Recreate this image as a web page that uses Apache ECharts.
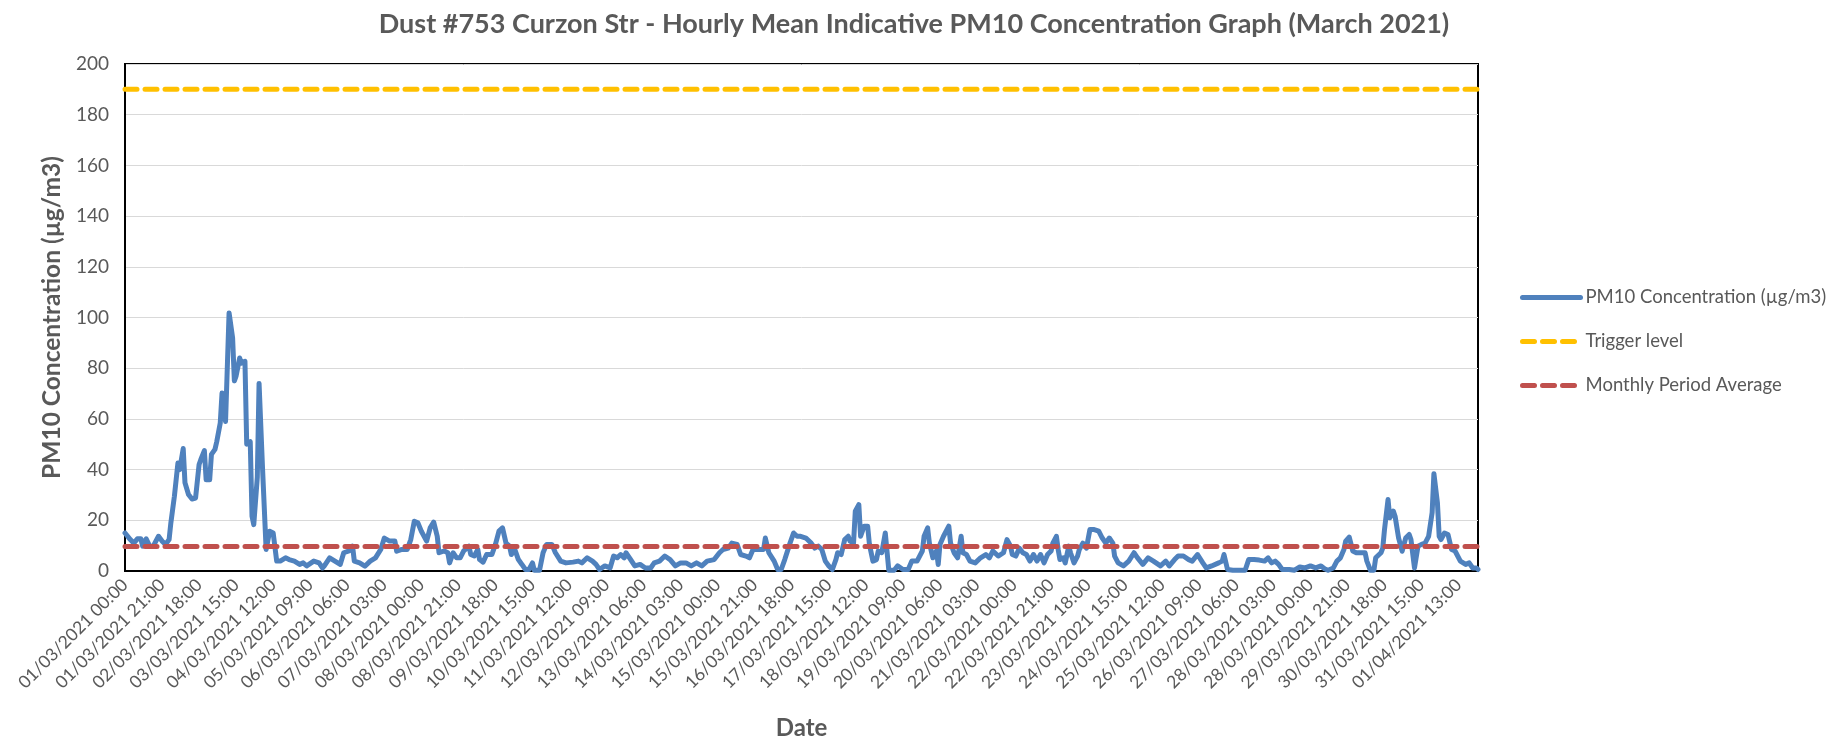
<!DOCTYPE html>
<html><head><meta charset="utf-8">
<script src="https://cdn.jsdelivr.net/npm/echarts@6/dist/echarts.min.js"></script>
<style>html,body{margin:0;padding:0;background:#fff}#c{width:1828px;height:741px}</style>
</head><body><div id="c"></div>
<script>
const tickLabels = [
 '01/03/2021 00:00','01/03/2021 21:00','02/03/2021 18:00','03/03/2021 15:00','04/03/2021 12:00',
 '05/03/2021 09:00','06/03/2021 06:00','07/03/2021 03:00','08/03/2021 00:00','08/03/2021 21:00',
 '09/03/2021 18:00','10/03/2021 15:00','11/03/2021 12:00','12/03/2021 09:00','13/03/2021 06:00',
 '14/03/2021 03:00','15/03/2021 00:00','15/03/2021 21:00','16/03/2021 18:00','17/03/2021 15:00',
 '18/03/2021 12:00','19/03/2021 09:00','20/03/2021 06:00','21/03/2021 03:00','22/03/2021 00:00',
 '22/03/2021 21:00','23/03/2021 18:00','24/03/2021 15:00','25/03/2021 12:00','26/03/2021 09:00',
 '27/03/2021 06:00','28/03/2021 03:00','28/03/2021 00:00','29/03/2021 21:00','30/03/2021 18:00',
 '31/03/2021 15:00','01/04/2021 13:00'
];
const labelEvery = 21;
const hourCount = 768;

// [hour index, PM10 µg/m3]
const pm10 = [
 [0,15],[3,12.4],[5,11],[7,12.7],[9,12.7],[10,9.8],[12,12.7],[14,9.8],[16,9.8],[19,13.7],[21,11.8],[23,10.5],[25,12.4],
 [26,19],[28,29.5],[30,42.6],[31,40],[33,48.3],[34,34.8],[36,30.2],[38,28.4],[40,28.8],[42,42],[43,44],[45,47.5],
 [46,36],[48,36],[49,46],[51,48],[52,51],[54,58.4],[55,70.2],[56,70],[57,59],[59,101.8],[61,92],[62,75],[63,77],
 [65,84],[66,82],[68,82.7],[69,50],[71,51],[72,21.6],[73,18.3],[75,37],[76,74],[78,40],[80,8.5],[82,15.7],[84,15],
 [86,3.9],[88,3.9],[91,5.2],[93,4.5],[96,3.9],[99,2.6],[101,3.2],[103,2],[107,3.9],[110,3.2],[112,1.2],[113,2],
 [116,5.2],[119,3.9],[122,2.6],[124,7.2],[127,7.9],[129,9.8],[130,3.9],[133,3.2],[136,1.9],[139,3.9],[142,5.2],
 [145,8.5],[147,13],[148,13.7],[150,11.8],[153,11.8],[154,7.8],[157,8.5],[160,8.5],[162,12.4],[164,19.6],[166,19],
 [168,15.7],[171,11.8],[173,17],[175,19.3],[177,13.7],[178,7.2],[181,7.9],[183,7.2],[184,3.2],[186,7.2],[188,5.2],
 [190,5.2],[192,7.9],[195,9.8],[196,6.5],[198,5.9],[200,8.5],[201,4.5],[203,3.5],[205,6.5],[208,6.5],[210,10.5],
 [212,15.7],[214,17],[216,11],[218,9.8],[219,6.5],[221,8.5],[223,4.5],[225,2.6],[227,0.6],[229,0.6],[231,3.2],
 [232,0.3],[235,0.3],[237,7.2],[239,10.5],[242,10.5],[244,7.2],[247,3.9],[250,3.2],[254,3.5],[257,3.9],[259,3.2],
 [262,5.2],[265,3.9],[267,2.6],[269,0.6],[272,2],[275,1.2],[277,5.9],[279,5.2],[281,6.5],[283,5.2],[284,7.2],
 [286,5.2],[289,2],[292,2.6],[295,1.2],[298,1.2],[300,3.2],[303,3.9],[306,5.9],[309,4.5],[312,2],[315,3.2],
 [318,3.2],[321,2],[324,3.2],[327,2],[330,3.9],[334,4.5],[337,7.2],[339,8.5],[342,9],[344,11],[347,10.5],[349,6.5],
 [352,5.9],[354,5.2],[356,8.5],[359,8.5],[362,8.5],[363,13],[365,7.2],[368,3.9],[370,0.6],[372,0.6],[374,4.5],
 [377,11],[379,15],[381,13.7],[383,13.7],[386,13],[387,13.7],[389,11],[391,9],[393,9.8],[395,8.5],[397,3.9],[399,2],
 [401,0.6],[403,4.5],[404,7.2],[406,6.5],[408,12.4],[410,13.7],[411,11.8],[413,11],[414,23.6],[416,26.2],[417,13.7],
 [419,17.7],[421,17.7],[422,10.5],[424,3.9],[426,4.5],[427,7.9],[429,7.2],[431,15],[432,15],[433,0.3],[436,0.3],
 [438,2],[441,0.6],[444,0.6],[446,3.9],[449,3.9],[452,7.9],[453,13.7],[455,17],[456,11],[458,5.2],[460,7.9],
 [461,2.6],[462,10.5],[464,13.7],[467,17.7],[468,11],[470,7.2],[472,5.2],[474,13.7],[475,7.2],[477,6.5],[479,3.9],
 [482,3.2],[485,5.2],[488,6.5],[490,5.2],[492,7.9],[495,5.9],[498,7.2],[500,12.4],[502,9.8],[503,6.5],[505,5.9],
 [507,9],[509,7.2],[511,6.5],[513,3.9],[515,6.5],[517,3.9],[519,6.5],[521,3.2],[523,6.5],[525,7.9],[526,11],
 [528,13.7],[529,8.5],[530,4.5],[532,5.2],[533,3.2],[535,9.8],[536,7.2],[538,3.2],[540,5.9],[541,8.5],[543,11],
 [545,9],[547,16.4],[549,16.4],[552,15.7],[554,13],[556,11],[558,13],[560,11],[561,5.9],[563,3.2],[566,2],[569,3.9],
 [572,7.2],[574,5.2],[577,2.6],[580,5.2],[583,3.9],[587,2],[590,3.9],[592,2],[595,4.5],[597,5.9],[600,5.9],
 [603,4.5],[605,3.9],[608,6.5],[611,3.2],[613,1.2],[616,2],[620,3.2],[622,3.9],[623,6.5],[625,0.6],[628,0.3],
 [632,0.3],[635,0.3],[637,4.5],[640,4.5],[643,4.3],[646,3.9],[648,5.2],[650,3.2],[652,3.9],[654,2.6],[656,0.6],
 [660,0.6],[663,0.3],[666,1.6],[669,1.2],[672,2],[675,1.2],[678,2],[680,0.9],[682,0.3],[685,1.2],[687,3.9],
 [689,5.2],[691,8.5],[692,11.8],[694,13.4],[695,13.4],[696,7.9],[698,7.2],[701,7.2],[703,7.2],[704,3.9],[706,0.3],
 [708,0.3],[709,5.2],[712,7.2],[713,9],[714,16.4],[716,28.2],[717,21],[719,23.6],[720,21.6],[722,13],[724,7.8],
 [726,13],[728,14.4],[729,12.4],[731,1.2],[733,9.8],[735,10.5],[737,11],[739,13.7],[741,23],[742,38.4],[744,26.9],
 [745,13.7],[746,12.4],[748,15],[750,14.4],[752,8.5],[754,7.9],[757,3.9],[760,2.6],[762,3.2],[764,1.2],[766,1.2],
 [767,0.6]
];
const triggerLevel = 190;
const monthlyAverage = 9.7;

// hourly categories
const categories = [];
for (let h = 0; h < hourCount; h++) {
  const d = new Date(Date.UTC(2021, 2, 1, h));
  const p = n => String(n).padStart(2, '0');
  categories.push(p(d.getUTCDate()) + '/' + p(d.getUTCMonth() + 1) + '/' + d.getUTCFullYear() + ' ' + p(d.getUTCHours()) + ':00');
}
const lastIdx = hourCount - 1;

const FONT = 'Lato, "Liberation Sans", sans-serif';
const GREY = '#595959';
const chart = echarts.init(document.getElementById('c'), null, {renderer: 'canvas'});
chart.setOption({
  animation: false,
  backgroundColor: '#fff',
  title: {
    text: 'Dust #753 Curzon Str - Hourly Mean Indicative PM10 Concentration Graph (March 2021)',
    left: 'center', top: 6,
    textStyle: {fontFamily: FONT, fontSize: 27, fontWeight: 'bold', color: GREY}
  },
  legend: {
    orient: 'vertical', left: 1515, top: 283,
    itemWidth: 58, itemHeight: 14, itemGap: 25,
    itemStyle: {opacity: 0},
    lineStyle: {width: 5},
    textStyle: {fontFamily: FONT, fontSize: 18.5, color: GREY},
    data: ['PM10 Concentration (µg/m3)', 'Trigger level', 'Monthly Period Average']
  },
  grid: {left: 125, right: 350, top: 64, bottom: 170, show: true, borderColor: '#000', borderWidth: 2,
         containLabel: false, outerBoundsMode: 'none'},
  xAxis: {
    type: 'category', data: categories, boundaryGap: false,
    name: 'Date', nameLocation: 'middle', nameGap: 145,
    nameTextStyle: {fontFamily: FONT, fontSize: 24, fontWeight: 'bold', color: GREY},
    axisLine: {lineStyle: {color: '#000', width: 2}},
    axisTick: {show: false},
    axisLabel: {
      interval: labelEvery - 1, rotate: 45, margin: 11,
      fontFamily: FONT, fontSize: 17.5, color: GREY,
      formatter: (v, i) => tickLabels[Math.round(i / labelEvery)] || ''
    },
    splitLine: {show: false}
  },
  yAxis: {
    type: 'value', min: 0, max: 200, interval: 20,
    name: 'PM10 Concentration (µg/m3)', nameLocation: 'middle', nameGap: 54,
    nameTextStyle: {fontFamily: FONT, fontSize: 24.5, fontWeight: 'bold', color: GREY},
    axisLine: {show: true, lineStyle: {color: '#000', width: 2}},
    axisTick: {show: false},
    axisLabel: {fontFamily: FONT, fontSize: 19, color: GREY, margin: 16},
    splitLine: {lineStyle: {color: '#D9D9D9', width: 1}}
  },
  series: [
    {name: 'PM10 Concentration (µg/m3)', type: 'line', data: pm10, symbol: 'none',
     lineStyle: {color: '#4F81BD', width: 5, join: 'round', cap: 'round'}, itemStyle: {color: '#4F81BD'}},
    {name: 'Trigger level', type: 'line', data: [[0, triggerLevel], [lastIdx, triggerLevel]], symbol: 'none',
     lineStyle: {color: '#FFC000', width: 5, type: [12, 8], cap: 'round'}, itemStyle: {color: '#FFC000'}},
    {name: 'Monthly Period Average', type: 'line', data: [[0, monthlyAverage], [lastIdx, monthlyAverage]], symbol: 'none',
     lineStyle: {color: '#C0504D', width: 5, type: [12, 8], cap: 'round'}, itemStyle: {color: '#C0504D'}}
  ]
});
</script>
</body></html>
